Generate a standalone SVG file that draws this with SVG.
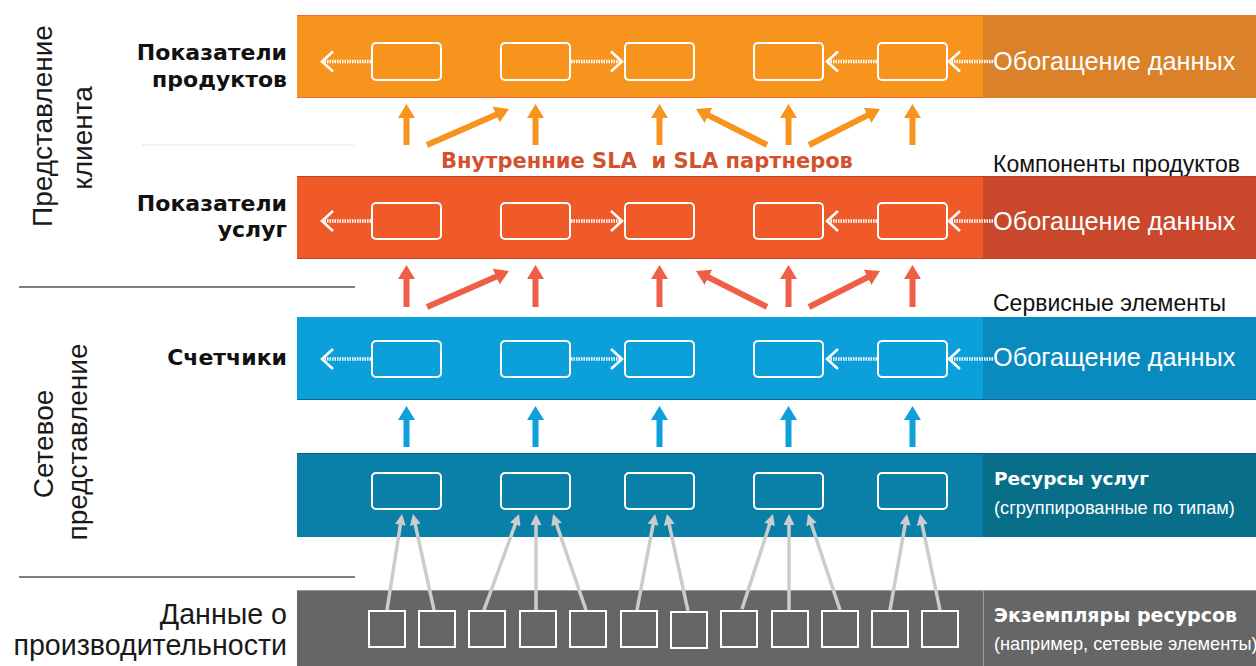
<svg xmlns="http://www.w3.org/2000/svg" width="1256" height="666" viewBox="0 0 1256 666">
<style>
.box{fill:none;stroke:#fff;stroke-width:2}
.sq{fill:none;stroke:#fff;stroke-width:2}
.dot{stroke:#fff;stroke-width:3.5;stroke-dasharray:1.5 1;fill:none}
.chev{fill:none;stroke:#fff;stroke-width:2.6;stroke-linecap:butt}
.enr{font-family:"Liberation Sans",Arial,sans-serif;font-size:25.3px;fill:#fff}
.side{font-family:"Liberation Sans",Arial,sans-serif;font-size:28px;fill:#1a1a1a}
.lbl{font-family:"DejaVu Sans","Liberation Sans",sans-serif;font-weight:bold;font-size:22px;fill:#111;text-anchor:end}
.note{font-family:"Liberation Sans",Arial,sans-serif;font-size:23px;fill:#111}
.rb{font-family:"DejaVu Sans","Liberation Sans",sans-serif;font-weight:bold;font-size:18.5px;fill:#fff}
.rs{font-family:"Liberation Sans",Arial,sans-serif;font-size:18.2px;fill:#fff}
.aO{stroke:#F7941E;stroke-width:6;fill:none}
.aR{stroke:#EF5F48;stroke-width:6;fill:none}
.aB{stroke:#0FA0DA;stroke-width:6;fill:none}
.aG{stroke:#CCCCCC;stroke-width:3.5;fill:none}
</style>
<defs>
<marker id="hO" markerUnits="userSpaceOnUse" markerWidth="14" markerHeight="17" viewBox="0 0 14 17" refX="1" refY="8.5" orient="auto"><path d="M0,0 L14,8.5 L0,17 z" fill="#F7941E"/></marker>
<marker id="hR" markerUnits="userSpaceOnUse" markerWidth="14" markerHeight="17" viewBox="0 0 14 17" refX="1" refY="8.5" orient="auto"><path d="M0,0 L14,8.5 L0,17 z" fill="#EF5F48"/></marker>
<marker id="hB" markerUnits="userSpaceOnUse" markerWidth="14" markerHeight="17" viewBox="0 0 14 17" refX="1" refY="8.5" orient="auto"><path d="M0,0 L14,8.5 L0,17 z" fill="#0FA0DA"/></marker>
<marker id="hG" markerUnits="userSpaceOnUse" markerWidth="11" markerHeight="11" viewBox="0 0 11 11" refX="1" refY="5.5" orient="auto"><path d="M0,0 L11,5.5 L0,11 z" fill="#CCCCCC"/></marker>
</defs>
<rect width="1256" height="666" fill="#fff"/>

<!-- side labels and separators -->
<g id="side">
<line x1="143" y1="145" x2="355" y2="145" stroke="#ccc" stroke-width="1" stroke-dasharray="1 1"/>
<line x1="19" y1="287" x2="355" y2="287" stroke="#555" stroke-width="1.3"/>
<line x1="19" y1="577" x2="355" y2="577" stroke="#555" stroke-width="1.3"/>
<text class="side" text-anchor="middle" transform="translate(52,126) rotate(-90)">Представление</text>
<text class="side" text-anchor="middle" transform="translate(92,138) rotate(-90)">клиента</text>
<text class="side" text-anchor="middle" transform="translate(53,444) rotate(-90)">Сетевое</text>
<text class="side" text-anchor="middle" transform="translate(87,442) rotate(-90)">представление</text>
<text class="side" text-anchor="end" x="287" y="624" style="font-size:28.6px">Данные о</text>
<text class="side" text-anchor="end" x="287" y="655" style="font-size:28.6px">производительности</text>
</g>

<!-- Band 1: product metrics -->
<g id="product-metrics">
<rect x="297" y="15" width="686" height="83" fill="#F7941E"/>
<rect x="983" y="15" width="273" height="83" fill="#DA8129"/>
<line x1="297" y1="15.5" x2="983" y2="15.5" stroke="#F06C3C" stroke-width="1"/>
<line x1="297" y1="97.5" x2="983" y2="97.5" stroke="#F06C3C" stroke-width="1"/>
<text class="lbl" x="287" y="60">Показатели</text>
<text class="lbl" x="287" y="87">продуктов</text>
<rect class="box" x="372" y="43" width="69" height="37" rx="4"/>
<rect class="box" x="501" y="43" width="69" height="37" rx="4"/>
<rect class="box" x="625" y="43" width="69" height="37" rx="4"/>
<rect class="box" x="754" y="43" width="69" height="37" rx="4"/>
<rect class="box" x="878" y="43" width="69" height="37" rx="4"/>
<line class="dot" x1="371" y1="61.5" x2="324" y2="61.5"/>
<polyline class="chev" points="333,51.5 322,61.5 333,71.5"/>
<line class="dot" x1="571" y1="61.5" x2="620" y2="61.5"/>
<polyline class="chev" points="611,51.5 622,61.5 611,71.5"/>
<line class="dot" x1="877" y1="61.5" x2="829" y2="61.5"/>
<polyline class="chev" points="838,51.5 827,61.5 838,71.5"/>
<line class="dot" x1="993" y1="61.5" x2="951" y2="61.5"/>
<polyline class="chev" points="960,51.5 949,61.5 960,71.5"/>
<text class="enr" x="993" y="70">Обогащение данных</text>
</g>

<text id="sla" x="647" y="168" text-anchor="middle" font-family="DejaVu Sans, Liberation Sans, sans-serif" font-weight="bold" font-size="21" fill="#D4512D" style="white-space:pre">Внутренние SLA  и SLA партнеров</text>
<text id="comp" class="note" x="993" y="172">Компоненты продуктов</text>

<!-- Band 2: service metrics -->
<g id="service-metrics">
<rect x="297" y="176" width="686" height="83" fill="#F05A28"/>
<rect x="983" y="176" width="273" height="83" fill="#C9482B"/>
<line x1="297" y1="176.5" x2="1256" y2="176.5" stroke="#B8432B" stroke-width="1"/>
<line x1="297" y1="258.5" x2="1256" y2="258.5" stroke="#B8432B" stroke-width="1"/>
<text class="lbl" x="287" y="211">Показатели</text>
<text class="lbl" x="287" y="237">услуг</text>
<rect class="box" x="372" y="203" width="69" height="36" rx="4"/>
<rect class="box" x="501" y="203" width="69" height="36" rx="4"/>
<rect class="box" x="625" y="203" width="69" height="36" rx="4"/>
<rect class="box" x="754" y="203" width="69" height="36" rx="4"/>
<rect class="box" x="878" y="203" width="69" height="36" rx="4"/>
<line class="dot" x1="371" y1="221" x2="324" y2="221"/>
<polyline class="chev" points="333,211 322,221 333,231"/>
<line class="dot" x1="571" y1="221" x2="620" y2="221"/>
<polyline class="chev" points="611,211 622,221 611,231"/>
<line class="dot" x1="877" y1="221" x2="829" y2="221"/>
<polyline class="chev" points="838,211 827,221 838,231"/>
<line class="dot" x1="993" y1="221" x2="951" y2="221"/>
<polyline class="chev" points="960,211 949,221 960,231"/>
<text class="enr" x="993" y="230">Обогащение данных</text>
</g>

<text id="svc" class="note" x="993" y="311">Сервисные элементы</text>

<!-- Band 3: counters -->
<g id="counters">
<rect x="297" y="317" width="686" height="83" fill="#0BA0DA"/>
<rect x="983" y="317" width="273" height="83" fill="#0A8BBF"/>
<line x1="297" y1="399.5" x2="1256" y2="399.5" stroke="#0A6C94" stroke-width="1"/>
<text class="lbl" x="287" y="365">Счетчики</text>
<rect class="box" x="372" y="341" width="69" height="36" rx="4"/>
<rect class="box" x="501" y="341" width="69" height="36" rx="4"/>
<rect class="box" x="625" y="341" width="69" height="36" rx="4"/>
<rect class="box" x="754" y="341" width="69" height="36" rx="4"/>
<rect class="box" x="878" y="341" width="69" height="36" rx="4"/>
<line class="dot" x1="371" y1="359" x2="324" y2="359"/>
<polyline class="chev" points="333,349 322,359 333,369"/>
<line class="dot" x1="571" y1="359" x2="620" y2="359"/>
<polyline class="chev" points="611,349 622,359 611,369"/>
<line class="dot" x1="877" y1="359" x2="829" y2="359"/>
<polyline class="chev" points="838,349 827,359 838,369"/>
<line class="dot" x1="993" y1="359" x2="951" y2="359"/>
<polyline class="chev" points="960,349 949,359 960,369"/>
<text class="enr" x="993" y="366">Обогащение данных</text>
</g>

<!-- Band 4: service resources -->
<g id="service-resources">
<rect x="297" y="453" width="686" height="84" fill="#0A80A8"/>
<rect x="983" y="453" width="273" height="84" fill="#086E8A"/>
<line x1="297" y1="453.5" x2="1256" y2="453.5" stroke="#0A5E7E" stroke-width="1"/>
<rect class="box" x="372" y="473" width="69" height="36" rx="4"/>
<rect class="box" x="501" y="473" width="69" height="36" rx="4"/>
<rect class="box" x="625" y="473" width="69" height="36" rx="4"/>
<rect class="box" x="754" y="473" width="69" height="36" rx="4"/>
<rect class="box" x="878" y="473" width="69" height="36" rx="4"/>
<text class="rb" x="994" y="485">Ресурсы услуг</text>
<text class="rs" x="994" y="514">(сгруппированные по типам)</text>
</g>

<!-- Band 5: resource instances -->
<g id="resource-instances">
<rect x="297" y="590" width="959" height="76" fill="#666666"/>
<line x1="297" y1="590.5" x2="1256" y2="590.5" stroke="#9a9a9a" stroke-width="1"/>
<line x1="983.5" y1="590" x2="983.5" y2="666" stroke="#9a9a9a" stroke-width="1"/>
<rect class="sq" x="369" y="611" width="36" height="36"/>
<rect class="sq" x="419" y="611" width="36" height="36"/>
<rect class="sq" x="469" y="611" width="36" height="36"/>
<rect class="sq" x="520" y="611" width="36" height="36"/>
<rect class="sq" x="570" y="611" width="36" height="36"/>
<rect class="sq" x="621" y="611" width="36" height="36"/>
<rect class="sq" x="671" y="612" width="36" height="36"/>
<rect class="sq" x="721" y="611" width="36" height="36"/>
<rect class="sq" x="772" y="611" width="36" height="36"/>
<rect class="sq" x="822" y="611" width="36" height="36"/>
<rect class="sq" x="872" y="611" width="36" height="36"/>
<rect class="sq" x="922" y="611" width="36" height="36"/>
<text class="rb" x="994" y="622" style="font-size:19px">Экземпляры ресурсов</text>
<text class="rs" x="994" y="650">(например, сетевые элементы)</text>
</g>

<g id="connectors">
<!-- orange -->
<line class="aO" x1="406.5" y1="145" x2="406.5" y2="117" marker-end="url(#hO)"/>
<line class="aO" x1="535.5" y1="145" x2="535.5" y2="117" marker-end="url(#hO)"/>
<line class="aO" x1="659.5" y1="145" x2="659.5" y2="117" marker-end="url(#hO)"/>
<line class="aO" x1="788.5" y1="145" x2="788.5" y2="117" marker-end="url(#hO)"/>
<line class="aO" x1="912.5" y1="145" x2="912.5" y2="117" marker-end="url(#hO)"/>
<line class="aO" x1="427" y1="145" x2="497.1" y2="114.2" marker-end="url(#hO)"/>
<line class="aO" x1="767" y1="145" x2="707.6" y2="114.9" marker-end="url(#hO)"/>
<line class="aO" x1="809" y1="145" x2="868.4" y2="114.9" marker-end="url(#hO)"/>
<!-- red -->
<line class="aR" x1="406.5" y1="307" x2="406.5" y2="278" marker-end="url(#hR)"/>
<line class="aR" x1="535.5" y1="307" x2="535.5" y2="278" marker-end="url(#hR)"/>
<line class="aR" x1="659.5" y1="307" x2="659.5" y2="278" marker-end="url(#hR)"/>
<line class="aR" x1="788.5" y1="307" x2="788.5" y2="278" marker-end="url(#hR)"/>
<line class="aR" x1="912.5" y1="307" x2="912.5" y2="278" marker-end="url(#hR)"/>
<line class="aR" x1="427" y1="307" x2="497.1" y2="276.2" marker-end="url(#hR)"/>
<line class="aR" x1="767" y1="307" x2="707.6" y2="276.9" marker-end="url(#hR)"/>
<line class="aR" x1="809" y1="307" x2="868.4" y2="276.9" marker-end="url(#hR)"/>
<!-- blue -->
<line class="aB" x1="406.5" y1="447" x2="406.5" y2="419" marker-end="url(#hB)"/>
<line class="aB" x1="535.5" y1="447" x2="535.5" y2="419" marker-end="url(#hB)"/>
<line class="aB" x1="659.5" y1="447" x2="659.5" y2="419" marker-end="url(#hB)"/>
<line class="aB" x1="788.5" y1="447" x2="788.5" y2="419" marker-end="url(#hB)"/>
<line class="aB" x1="912.5" y1="447" x2="912.5" y2="419" marker-end="url(#hB)"/>
<!-- gray -->
<line class="aG" x1="387" y1="610" x2="400.5" y2="523.9" marker-end="url(#hG)"/>
<line class="aG" x1="434" y1="610" x2="415.1" y2="523.8" marker-end="url(#hG)"/>
<line class="aG" x1="484" y1="610" x2="515.6" y2="523.4" marker-end="url(#hG)"/>
<line class="aG" x1="536" y1="610" x2="536" y2="524" marker-end="url(#hG)"/>
<line class="aG" x1="586" y1="610" x2="556.3" y2="523.5" marker-end="url(#hG)"/>
<line class="aG" x1="637" y1="610" x2="653.2" y2="523.8" marker-end="url(#hG)"/>
<line class="aG" x1="688" y1="611" x2="669.1" y2="523.8" marker-end="url(#hG)"/>
<line class="aG" x1="742" y1="609" x2="769.9" y2="523.5" marker-end="url(#hG)"/>
<line class="aG" x1="789" y1="610" x2="789" y2="524" marker-end="url(#hG)"/>
<line class="aG" x1="840" y1="610" x2="811.2" y2="523.5" marker-end="url(#hG)"/>
<line class="aG" x1="890" y1="610" x2="905.3" y2="523.8" marker-end="url(#hG)"/>
<line class="aG" x1="940" y1="610" x2="922" y2="523.8" marker-end="url(#hG)"/>
</g>
</svg>
